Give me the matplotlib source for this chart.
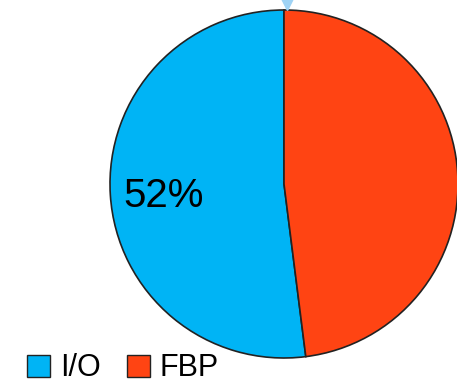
"""pie chart of time share: I/O vs FBP"""

import matplotlib.pyplot as plt
from matplotlib.patches import Patch

labels = ["I/O", "FBP"]
shares = [52, 48]
colors = ["#00B4F5", "#FF4413"]

plt.rcParams["font.family"] = ["Liberation Sans", "DejaVu Sans"]

W, H = 457, 385
fig = plt.figure(figsize=(W / 100, H / 100), dpi=100)

# pie is centred at (284, 184) px with a radius of 174 px
cx, cy, r = 284, 184, 174
ax = fig.add_axes([(cx - r) / W, (H - cy - r) / H, 2 * r / W, 2 * r / H])

wedges, _ = ax.pie(
    shares,
    colors=colors,
    startangle=90,
    counterclock=True,
    radius=1.0,
    wedgeprops=dict(edgecolor="#222222", linewidth=1.2),
)
ax.set_xlim(-1, 1)
ax.set_ylim(-1, 1)
ax.axis("off")

# only the first slice carries a label
ax.text(-0.695, -0.07, f"{shares[0]}%", fontsize=29, ha="center", va="center")

# faint marker left at the top edge
ax.plot([0.02], [1.035], marker="v", markersize=8, color="#9FD3F5", clip_on=False)

handles = [Patch(facecolor=c, edgecolor="#222222", linewidth=1.0) for c in colors]
fig.legend(
    handles,
    labels,
    loc="lower left",
    bbox_to_anchor=(27 / W, 0.004),
    ncol=2,
    frameon=False,
    fontsize=22,
    borderpad=0,
    borderaxespad=0,
    handlelength=0.75,
    handleheight=0.75,
    handletextpad=0.33,
    columnspacing=0.85,
)

plt.savefig("out.png", dpi=100)
